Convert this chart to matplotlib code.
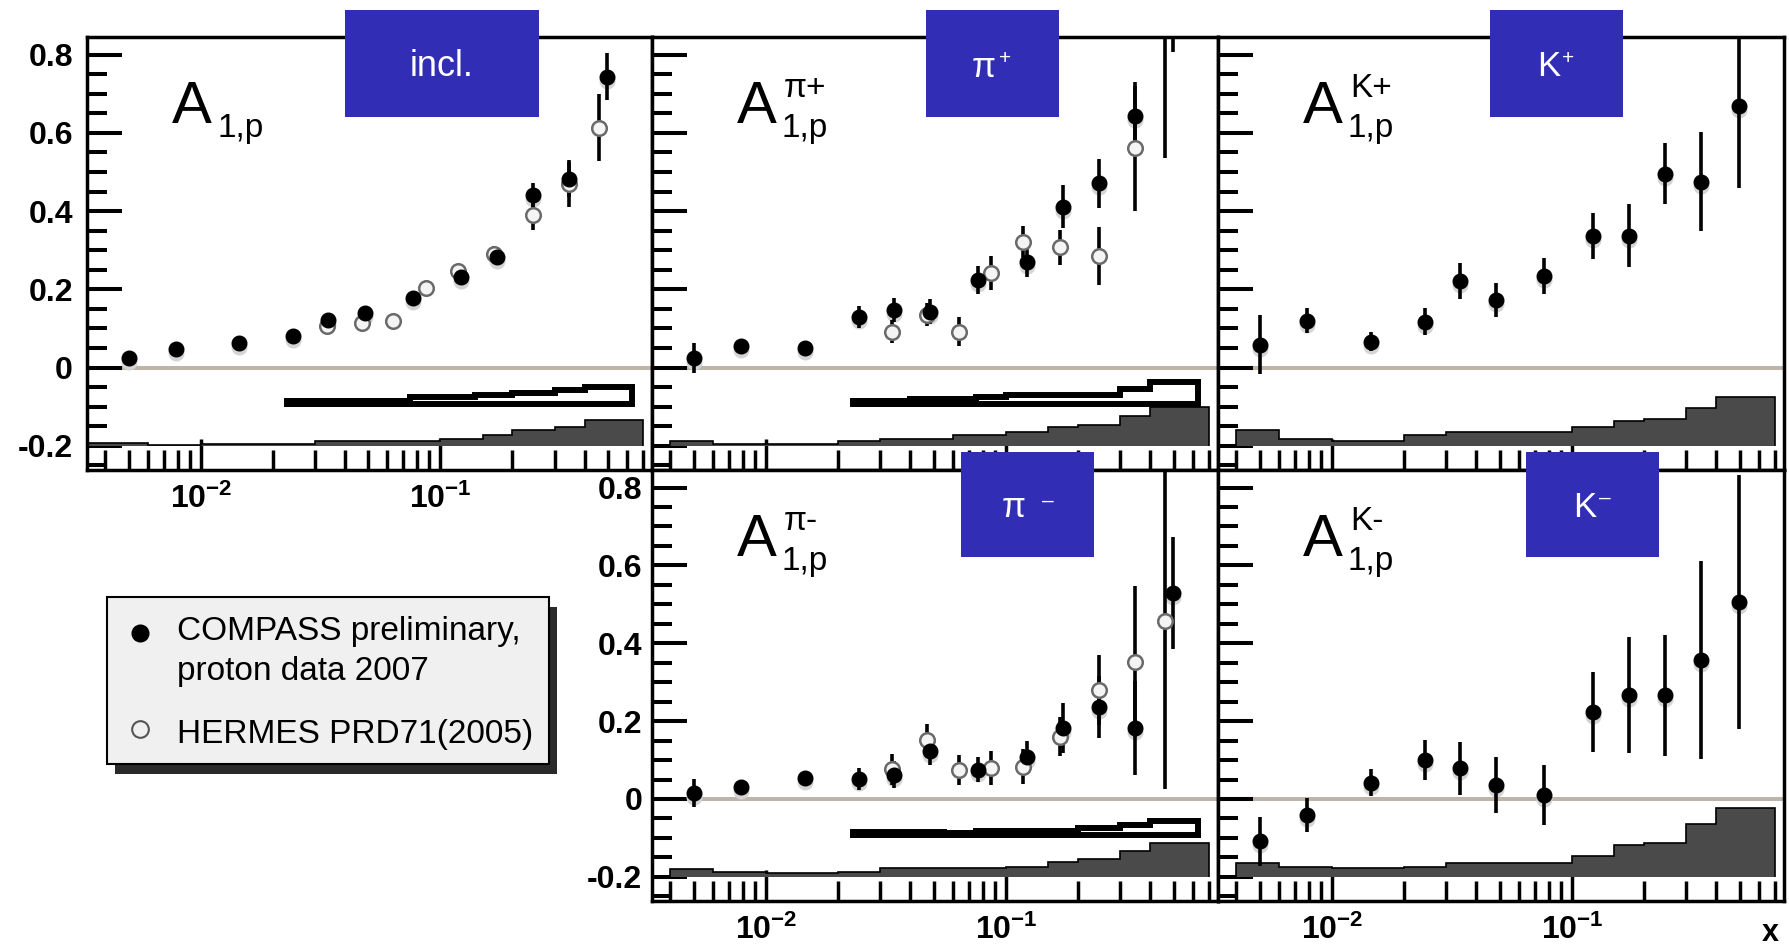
import numpy as np
import matplotlib
matplotlib.use("Agg")
import matplotlib.pyplot as plt
from matplotlib.patches import Rectangle, Polygon
from matplotlib.lines import Line2D
from matplotlib.ticker import LogLocator, NullFormatter, MultipleLocator, FixedLocator, FuncFormatter
from matplotlib.transforms import offset_copy

plt.rcParams['font.family'] = ['Liberation Sans', 'DejaVu Sans']
plt.rcParams['mathtext.fontset'] = 'custom'
plt.rcParams['mathtext.rm'] = 'Liberation Sans:bold'
plt.rcParams['mathtext.it'] = 'Liberation Sans:italic:bold'
plt.rcParams['mathtext.bf'] = 'Liberation Sans:bold'

# ---------------- data ----------------
# COMPASS x-binning and bin centres
compass_edges = [0.004, 0.006, 0.01, 0.02, 0.03, 0.04, 0.06, 0.1, 0.15, 0.2, 0.3, 0.4, 0.7]
incl_edges = [0.003, 0.006, 0.01, 0.02, 0.03, 0.04, 0.06, 0.1, 0.15, 0.2, 0.3, 0.4, 0.7]
compass_x = [0.0050, 0.0079, 0.0145, 0.0243, 0.0341, 0.0484, 0.0766, 0.122, 0.172, 0.243, 0.345, 0.495]

# HERMES x-binning and bin centres
hermes_edges = [0.023, 0.04, 0.055, 0.075, 0.1, 0.14, 0.2, 0.3, 0.4, 0.63]
hermes_x = [0.0335, 0.047, 0.0635, 0.087, 0.118, 0.168, 0.244, 0.345, 0.458]

# inclusive A1p
incl_compass = [0.024, 0.047, 0.062, 0.081, 0.121, 0.140, 0.177, 0.231, 0.283, 0.441, 0.481, 0.743]
incl_compass_err = [0.012, 0.010, 0.010, 0.010, 0.012, 0.012, 0.015, 0.015, 0.020, 0.030, 0.045, 0.060]
incl_compass_syst = [0.007, 0.003, 0.005, 0.005, 0.013, 0.013, 0.013, 0.018, 0.028, 0.041, 0.047, 0.066]
incl_hermes = [0.105, 0.114, 0.119, 0.203, 0.247, 0.290, 0.391, 0.470, 0.613]
incl_hermes_err = [0.010, 0.010, 0.012, 0.013, 0.015, 0.020, 0.040, 0.060, 0.085]
incl_hermes_syst = [0.022, 0.022, 0.022, 0.032, 0.032, 0.037, 0.043, 0.049, 0.058]

# pi+
pip_compass = [0.024, 0.054, 0.051, 0.130, 0.147, 0.143, 0.224, 0.271, 0.411, 0.471, 0.643, 1.100]
pip_compass_err = [0.038, 0.015, 0.015, 0.028, 0.030, 0.033, 0.036, 0.040, 0.055, 0.062, 0.088, 0.293]
pip_compass_syst = [0.011, 0.004, 0.004, 0.011, 0.017, 0.017, 0.028, 0.034, 0.048, 0.054, 0.075, 0.100]
pip_hermes = [0.092, 0.135, 0.092, 0.241, 0.322, 0.307, 0.285, 0.560, 1.000]
pip_hermes_err = [0.030, 0.030, 0.037, 0.043, 0.040, 0.045, 0.075, 0.160, 0.465]
pip_hermes_syst = [0.022, 0.026, 0.026, 0.033, 0.037, 0.037, 0.037, 0.053, 0.070]

# K+
kp_compass = [0.058, 0.119, 0.066, 0.117, 0.221, 0.173, 0.234, 0.337, 0.337, 0.496, 0.475, 0.668]
kp_compass_err = [0.075, 0.032, 0.025, 0.035, 0.047, 0.043, 0.046, 0.059, 0.080, 0.079, 0.126, 0.210]
kp_compass_syst = [0.039, 0.017, 0.011, 0.028, 0.034, 0.034, 0.034, 0.047, 0.062, 0.068, 0.096, 0.124]

# pi-
pim_compass = [0.015, 0.032, 0.053, 0.051, 0.062, 0.122, 0.075, 0.109, 0.182, 0.237, 0.182, 0.529]
pim_compass_err = [0.036, 0.012, 0.012, 0.028, 0.035, 0.034, 0.032, 0.040, 0.065, 0.080, 0.120, 0.145]
pim_compass_syst = [0.019, 0.013, 0.009, 0.013, 0.022, 0.022, 0.022, 0.026, 0.039, 0.045, 0.067, 0.086]
pim_hermes = [0.076, 0.152, 0.075, 0.079, 0.083, 0.160, 0.280, 0.353, 0.456]
pim_hermes_err = [0.040, 0.040, 0.038, 0.043, 0.045, 0.050, 0.090, 0.195, 0.430]
pim_hermes_syst = [0.022, 0.022, 0.020, 0.025, 0.025, 0.025, 0.033, 0.042, 0.050]

# K-
km_compass = [-0.108, -0.041, 0.042, 0.100, 0.079, 0.036, 0.010, 0.223, 0.267, 0.266, 0.357, 0.505]
km_compass_err = [0.063, 0.044, 0.034, 0.051, 0.068, 0.072, 0.077, 0.102, 0.148, 0.156, 0.254, 0.326]
km_compass_syst = [0.035, 0.026, 0.022, 0.026, 0.036, 0.036, 0.036, 0.053, 0.082, 0.088, 0.137, 0.178]

y_major = [-0.2, 0.0, 0.2, 0.4, 0.6, 0.8]
legend_lines = ["COMPASS preliminary,", "proton data 2007", "HERMES PRD71(2005)"]

# ---------------- figure ----------------
W, H, DPI = 1789, 950, 100
fig = plt.figure(figsize=(W / DPI, H / DPI), dpi=DPI)
fig.patch.set_facecolor('white')

XLIM = (0.00335, 0.7645)
YLIM = (-0.262, 0.845)
COMPASS_SYST_BASE = -0.2
HERMES_SYST_BASE = -0.1
BAND_LW = 4.3                      # points
BAND_INSET = 0.0077                # half the band line width, in data units
BLUE = '#312eb5'

cols = [87, 652, 1218, 1784]
rows = [(37, 470), (470, 901)]


def fxy(px, py):
    return px / W, 1 - py / H


def ftext(px, py, s, **kw):
    x, y = fxy(px, py)
    return fig.text(x, y, s, transform=fig.transFigure, **kw)


def make_axes(col, row):
    left, right = cols[col], cols[col + 1]
    top, bottom = rows[row]
    ax = fig.add_axes([left / W, 1 - bottom / H, (right - left) / W, (bottom - top) / H])
    ax.set_xscale('log')
    ax.set_xlim(*XLIM)
    ax.set_ylim(*YLIM)
    ax.xaxis.set_major_locator(LogLocator(base=10, numticks=10))
    ax.xaxis.set_minor_locator(LogLocator(base=10, subs=np.arange(2, 10), numticks=20))
    ax.xaxis.set_minor_formatter(NullFormatter())
    ax.yaxis.set_major_locator(FixedLocator(y_major))
    ax.yaxis.set_minor_locator(MultipleLocator(0.05))
    ax.tick_params(axis='x', which='major', direction='in', length=22, width=2.5,
                   bottom=True, top=False, labelsize=23, pad=10)
    ax.tick_params(axis='x', which='minor', direction='in', length=14.5, width=2.5,
                   bottom=True, top=False)
    ax.tick_params(axis='y', which='major', direction='in', length=25, width=2.9,
                   left=True, right=False, labelsize=23)
    ax.tick_params(axis='y', which='minor', direction='in', length=14.5, width=2.9,
                   left=True, right=False)
    for sp in ax.spines.values():
        sp.set_linewidth(2.5)
    ax.xaxis.set_major_formatter(FuncFormatter(lambda v, _: r'$10^{%d}$' % int(round(np.log10(v)))))
    ax.yaxis.set_major_formatter(FuncFormatter(lambda v, _: '0' if abs(v) < 1e-9 else f'{v:.1f}'))
    return ax, left, top


def draw_panel(ax, c_val, c_err, c_syst, c_edges, h_val=None, h_err=None, h_syst=None):
    ax.axhline(0, color='#bdb4aa', lw=2.9, zorder=1.5)
    # COMPASS systematic band
    tops = [COMPASS_SYST_BASE + s for s in c_syst]
    ax.stairs(tops, c_edges, baseline=COMPASS_SYST_BASE, fill=True,
              facecolor='#4a4a4a', edgecolor='black', linewidth=1.2, zorder=2)
    if h_val is not None:
        # HERMES systematic band, drawn as a thick outline
        verts = [(hermes_edges[0], HERMES_SYST_BASE + BAND_INSET)]
        for i, s in enumerate(h_syst):
            t = HERMES_SYST_BASE + s - BAND_INSET
            verts.append((hermes_edges[i], t))
            verts.append((hermes_edges[i + 1], t))
        verts.append((hermes_edges[-1], HERMES_SYST_BASE + BAND_INSET))
        ax.add_patch(Polygon(verts, closed=True, facecolor='white', edgecolor='black',
                             lw=BAND_LW, joinstyle='miter', zorder=2.2))
        ax.errorbar(hermes_x, h_val, yerr=h_err, fmt='none', ecolor='black',
                    elinewidth=2.6, capsize=0, zorder=3)
        ax.plot(hermes_x, h_val, 'o', ms=10.5, mfc='#f4f4f4', mec='#6a6a6a', mew=1.8,
                ls='none', zorder=4)
    ax.errorbar(compass_x, c_val, yerr=c_err, fmt='none', ecolor='black',
                elinewidth=2.6, capsize=0, zorder=3)
    shadow = offset_copy(ax.transData, fig=fig, x=0, y=-4, units='dots')
    ax.plot(compass_x, c_val, 'o', ms=10.5, color='#d4d4d4', ls='none',
            transform=shadow, zorder=2.9)
    ax.plot(compass_x, c_val, 'o', ms=10.5, color='black', ls='none', zorder=5)


def asym_label(left, top, sup):
    ftext(left + 85, top + 86, 'A', size=43, ha='left', va='baseline', zorder=6)
    ftext(left + 130, top + 100, '1,p', size=24, ha='left', va='baseline', zorder=6)
    if sup:
        ftext(left + 132, top + 60, sup, size=24, ha='left', va='baseline', zorder=6)


def blue_box(x0, y0, x1, y1):
    x, y = fxy(x0, y1)
    fig.add_artist(Rectangle((x, y), (x1 - x0) / W, (y1 - y0) / H, transform=fig.transFigure,
                             facecolor=BLUE, edgecolor='none', zorder=20))


panels = [
    (0, 0, incl_compass, incl_compass_err, incl_compass_syst, incl_edges,
     incl_hermes, incl_hermes_err, incl_hermes_syst, None),
    (1, 0, pip_compass, pip_compass_err, pip_compass_syst, compass_edges,
     pip_hermes, pip_hermes_err, pip_hermes_syst, 'π+'),
    (2, 0, kp_compass, kp_compass_err, kp_compass_syst, compass_edges,
     None, None, None, 'K+'),
    (1, 1, pim_compass, pim_compass_err, pim_compass_syst, compass_edges,
     pim_hermes, pim_hermes_err, pim_hermes_syst, 'π-'),
    (2, 1, km_compass, km_compass_err, km_compass_syst, compass_edges,
     None, None, None, 'K-'),
]

for col, row, cv, ce, cs, cedges, hv, he, hs, sup in panels:
    ax, left, top = make_axes(col, row)
    draw_panel(ax, cv, ce, cs, cedges, hv, he, hs)
    show_y = (col == 0) or (col == 1 and row == 1)
    show_x = (row == 1) or (col == 0)
    ax.tick_params(axis='y', labelleft=show_y, pad=10 if col == 0 else 7)
    ax.tick_params(axis='x', labelbottom=show_x)
    for lab in ax.get_yticklabels():
        lab.set_fontweight('bold')
    asym_label(left, top, sup)

# blue channel tags
blue_box(345, 10, 539, 117)
ftext(442, 76, 'incl.', size=26, color='white', ha='center', va='baseline', zorder=21)
blue_box(926, 10, 1059, 117)
ftext(972, 77, 'π', size=25, color='white', ha='left', va='baseline', zorder=21)
ftext(999, 64, '+', size=15, color='white', ha='left', va='baseline', zorder=21)
blue_box(1490, 10, 1623, 117)
ftext(1537, 76, 'K', size=25, color='white', ha='left', va='baseline', zorder=21)
ftext(1562, 64, '+', size=15, color='white', ha='left', va='baseline', zorder=21)
blue_box(961, 452, 1094, 557)
ftext(1002, 517, 'π', size=25, color='white', ha='left', va='baseline', zorder=21)
ftext(1042, 507, '–', size=15, color='white', ha='left', va='baseline', zorder=21)
blue_box(1526, 452, 1659, 557)
ftext(1573, 517, 'K', size=25, color='white', ha='left', va='baseline', zorder=21)
ftext(1599, 504, '–', size=15, color='white', ha='left', va='baseline', zorder=21)

# legend box with drop shadow
sx, sy = fxy(115, 774)
fig.add_artist(Rectangle((sx, sy), 442 / W, 167 / H, transform=fig.transFigure,
                         facecolor='#2a2a2a', edgecolor='none', zorder=10))
bx, by = fxy(107, 764)
fig.add_artist(Rectangle((bx, by), 442 / W, 167 / H, transform=fig.transFigure,
                         facecolor='#f0f0f0', edgecolor='black', lw=1.5, zorder=11))
mx, my = fxy(140, 633)
fig.add_artist(Line2D([mx], [my], marker='o', ms=12, color='black', ls='none',
                      transform=fig.transFigure, zorder=12))
mx, my = fxy(140, 729)
fig.add_artist(Line2D([mx], [my], marker='o', ms=12, mfc='#f0f0f0', mec='#555555', mew=1.5,
                      ls='none', transform=fig.transFigure, zorder=12))
ftext(177, 640, legend_lines[0], size=24, ha='left', va='baseline', zorder=12)
ftext(177, 680, legend_lines[1], size=24, ha='left', va='baseline', zorder=12)
ftext(177, 743, legend_lines[2], size=24, ha='left', va='baseline', zorder=12)

# x-axis title, at the lower right corner
ftext(1770, 941, 'x', size=22, fontweight='bold', ha='center', va='baseline', zorder=12)

fig.savefig('out.png', dpi=DPI)
